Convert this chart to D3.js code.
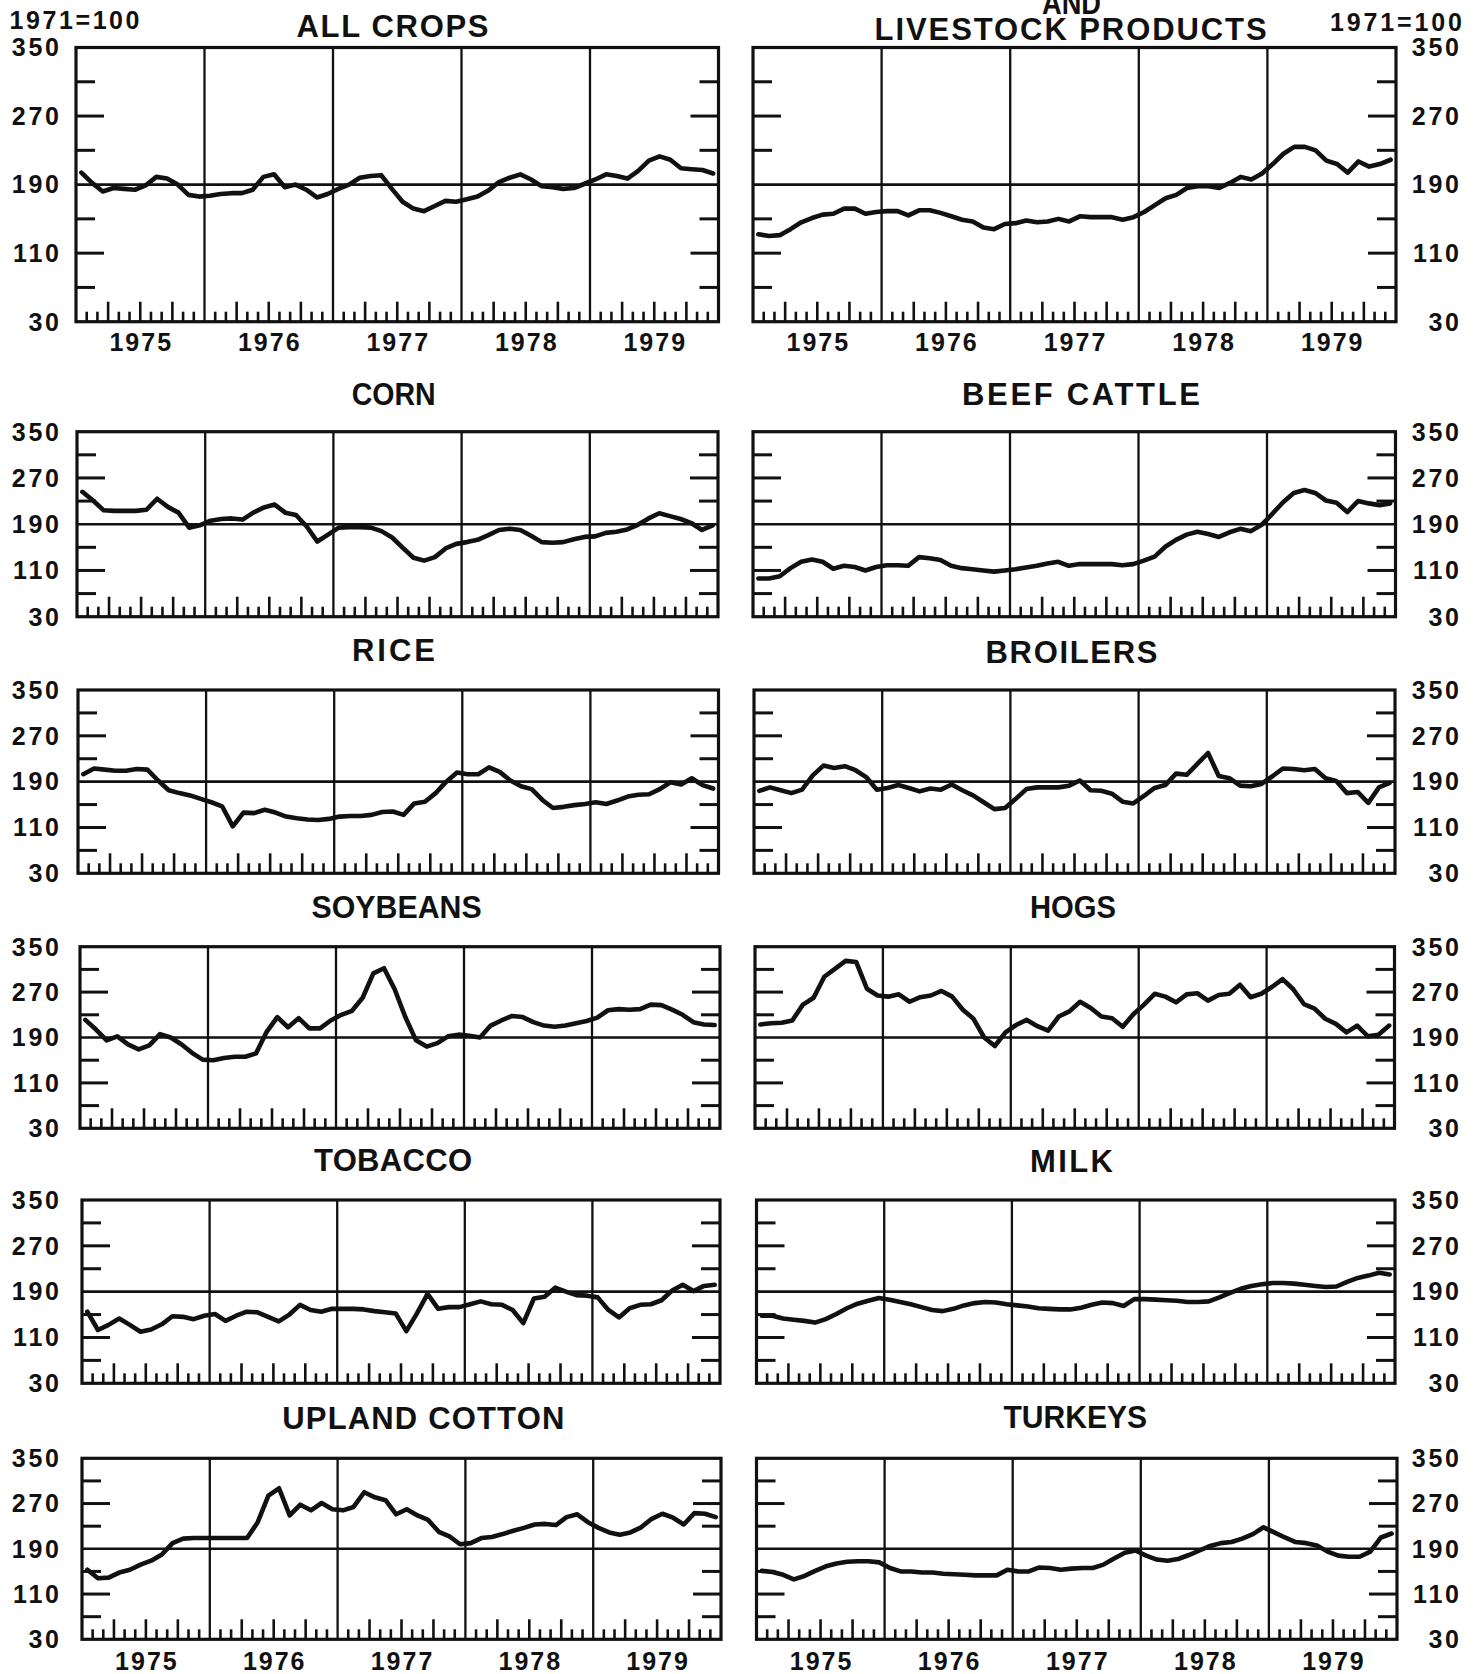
<!DOCTYPE html>
<html><head><meta charset="utf-8">
<script src="https://cdn.jsdelivr.net/npm/d3@7"></script>
<style>
html,body{margin:0;padding:0;background:#fff;}
svg{display:block;}
text{font-family:"Liberation Sans",Arial,"Noto Sans",sans-serif;font-weight:bold;fill:#111;}
</style></head><body>
<svg id="chart" width="1479" height="1674"></svg>
<script>
// ---------------- DATA ----------------
const years = ["1975", "1976", "1977", "1978", "1979"];
const monthsPerYear = 12;
const yTickLabels = [350, 270, 190, 110, 30];
const yMinorTicks = [310, 230, 150, 70];
const yDomain = [30, 350];
const referenceValue = 190;
const unitLabel = "1971=100";

const allCrops = [204,192,182,186,185,184,189,199,197,190,178,176,177,179,180,180,184,199,202,187,190,184,175,179,185,190,198,200,201,185,170,162,159,165,171,170,173,176,183,193,198,202,196,188,187,185,186,191,196,202,200,197,206,218,223,219,209,208,207,203];
const livestock = [132,130,131,138,146,151,155,156,162,162,156,158,159,159,154,160,160,157,153,149,147,140,138,144,145,148,146,147,150,147,153,152,152,152,149,152,158,166,174,178,186,188,188,186,192,199,196,203,214,226,234,234,230,218,214,204,217,211,214,219];
const corn = [246,231,214,213,213,213,215,234,220,210,184,188,196,199,200,198,210,219,224,210,206,186,160,172,184,185,185,184,178,167,149,132,127,133,148,156,159,163,171,180,182,180,170,159,158,159,164,168,169,175,177,181,189,200,209,204,199,192,180,188];
const beefCattle = [96,96,100,114,125,129,125,113,118,116,110,116,119,119,118,133,131,128,118,114,112,110,108,110,112,115,118,122,125,118,121,121,121,121,119,121,127,134,151,163,172,177,173,168,176,182,178,189,208,228,244,249,244,231,227,211,230,226,223,226];
const rice = [203,213,211,209,209,212,211,192,175,170,166,160,154,147,112,136,135,141,136,129,126,124,123,125,129,130,130,132,137,138,132,152,155,170,190,206,203,203,215,207,192,182,177,158,144,146,149,151,154,151,157,164,167,168,177,189,185,196,184,178];
const broilers = [174,180,175,170,176,201,218,214,217,210,198,176,179,184,179,173,178,176,185,175,166,154,142,144,160,177,180,180,180,183,192,175,174,169,155,152,165,179,184,204,202,221,240,200,196,183,182,186,199,213,212,210,212,196,191,170,172,153,180,188];
const soybeans = [221,204,185,192,178,169,176,196,190,178,163,151,150,154,156,156,162,200,226,208,224,206,206,220,230,237,260,303,312,275,226,185,174,180,192,195,193,190,211,220,228,226,217,211,209,211,215,219,225,238,240,239,240,248,247,239,230,217,213,212];
const hogs = [213,215,216,220,248,260,297,311,325,323,276,264,262,266,253,261,264,272,262,239,223,190,175,199,212,221,210,202,227,236,253,242,227,224,209,231,248,267,262,252,266,268,255,265,267,283,261,267,279,293,275,249,241,223,214,199,211,192,195,211];
const tobacco = [155,123,132,143,132,120,124,133,147,146,142,148,151,139,148,155,154,146,138,150,167,158,155,160,160,160,159,156,154,152,121,152,186,160,163,163,168,173,168,167,158,135,178,181,197,190,184,183,180,158,145,161,167,168,175,192,202,191,200,202];
const milk = [148,148,143,141,139,136,142,151,161,169,174,179,176,172,168,163,158,156,160,166,170,172,171,168,166,164,161,160,159,159,162,167,171,170,165,177,177,176,175,174,172,172,173,180,188,195,200,203,205,205,204,202,200,198,199,207,214,218,223,220];
const uplandCotton = [153,138,139,148,153,162,169,180,200,208,209,209,209,209,209,209,237,284,297,249,268,258,271,260,258,264,290,281,276,251,260,249,241,220,212,198,200,209,211,216,222,227,233,234,232,246,251,237,227,219,215,219,228,243,252,245,233,253,252,246];
const turkeys = [151,149,144,136,142,151,159,164,167,168,168,166,156,150,150,148,148,146,145,144,143,143,143,153,150,150,157,156,153,155,156,156,162,173,183,187,178,171,169,172,179,187,195,200,202,208,216,228,219,210,202,200,196,185,178,176,176,185,210,217];

const panelTitles = ["ALL CROPS","LIVESTOCK PRODUCTS","CORN","BEEF CATTLE","RICE","BROILERS","SOYBEANS","HOGS","TOBACCO","MILK","UPLAND COTTON","TURKEYS"];
const panelSeries = [allCrops, livestock, corn, beefCattle, rice, broilers, soybeans, hogs, tobacco, milk, uplandCotton, turkeys];

// ---------------- LAYOUT ----------------
const rowTop    = [47.5, 431.7, 690, 946.7, 1200, 1458.3];
const rowBottom = [321.7, 616.7, 873.3, 1128.3, 1383.3, 1639.3];
const colX0 = [[76,77,78,80,82,82],[753,753,754,755,756.5,756.5]];
const colX1 = [[718.5,718,718.5,720,720,721],[1396,1395.5,1395,1394.5,1395,1397]];
// title placement: [left x, baseline y, width]
const titleBoxes = [
  [296.5,37,192],[874.6,39.5,392],
  [351.7,405,84],[962,405,238],
  [352,661,83],[985.5,663,172],
  [311.6,918,170],[1030,918,86],
  [314,1171,158],[1030,1172,83],
  [282.3,1429,282],[1003.5,1428,143.5]
];

const svg = d3.select("#chart");
svg.append("rect").attr("width",1479).attr("height",1674).attr("fill","#fff");
const ink = "#111";

function fitText(g, str, x, y, w, size) {
  const t = g.append("text").attr("x", x).attr("y", y)
    .attr("font-size", size)
    .text(str);
  const natural = t.node().getComputedTextLength();
  t.attr("textLength", w)
   .attr("lengthAdjust", natural > w ? "spacingAndGlyphs" : "spacing");
  return t;
}

panelTitles.forEach((title, p) => {
  const row = Math.floor(p / 2), col = p % 2;
  const x0 = colX0[col][row], x1 = colX1[col][row];
  const top = rowTop[row], bottom = rowBottom[row];
  const values = panelSeries[p];
  const nMonths = years.length * monthsPerYear;

  const x = d3.scaleLinear().domain([0, nMonths]).range([x0, x1]);
  const y = d3.scaleLinear().domain(yDomain).range([bottom, top]);
  const g = svg.append("g");

  // title
  const tb = titleBoxes[p];
  fitText(g, title, tb[0], tb[1], tb[2], 31);

  // year gridlines
  g.selectAll("line.grid").data(d3.range(1, years.length)).join("line")
    .attr("x1", d => x(d * monthsPerYear)).attr("x2", d => x(d * monthsPerYear))
    .attr("y1", top).attr("y2", bottom)
    .attr("stroke", ink).attr("stroke-width", 2.3);

  // reference line
  g.append("line").attr("x1", x0).attr("x2", x1)
    .attr("y1", y(referenceValue)).attr("y2", y(referenceValue))
    .attr("stroke", ink).attr("stroke-width", 2.6);

  // month ticks (bottom, inward)
  const monthTicks = d3.range(1, nMonths).filter(k => k % monthsPerYear !== 0);
  g.selectAll("line.mt").data(monthTicks).join("line")
    .attr("x1", d => x(d)).attr("x2", d => x(d))
    .attr("y1", bottom).attr("y2", d => bottom - (d % 3 === 0 ? 20 : 10))
    .attr("stroke", ink).attr("stroke-width", 2.6);

  // y ticks on both sides (inward)
  const majorInner = yTickLabels.filter(v => v !== yDomain[0] && v !== yDomain[1] && v !== referenceValue);
  const yt = majorInner.map(v => ({v, len: 28})).concat(yMinorTicks.map(v => ({v, len: 19})));
  g.selectAll("line.ytl").data(yt).join("line")
    .attr("x1", x0).attr("x2", d => x0 + d.len)
    .attr("y1", d => y(d.v)).attr("y2", d => y(d.v))
    .attr("stroke", ink).attr("stroke-width", 3);
  g.selectAll("line.ytr").data(yt).join("line")
    .attr("x1", x1).attr("x2", d => x1 - d.len)
    .attr("y1", d => y(d.v)).attr("y2", d => y(d.v))
    .attr("stroke", ink).attr("stroke-width", 3);

  // frame
  g.append("rect").attr("x", x0).attr("y", top)
    .attr("width", x1 - x0).attr("height", bottom - top)
    .attr("fill", "none").attr("stroke", ink).attr("stroke-width", 3.2);

  // data line
  const line = d3.line().x((d, i) => x(i + 0.5)).y(d => y(d)).curve(d3.curveLinear);
  g.append("path").datum(values).attr("d", line)
    .attr("fill", "none").attr("stroke", ink).attr("stroke-width", 4.6)
    .attr("stroke-linejoin", "round").attr("stroke-linecap", "round");

  // y labels
  const labelRight = col === 0 ? 59 : 1459;
  const ls = 2.8;
  g.selectAll("text.yl").data(yTickLabels).join("text")
    .attr("x", labelRight + ls).attr("y", d => y(d) + 8.8)
    .attr("text-anchor", "end").attr("font-size", 25)
    .attr("letter-spacing", ls)
    .text(d => d);

  // year labels on top and bottom rows
  if (row === 0 || row === 5) {
    const base = row === 0 ? 350.5 : 1670;
    g.selectAll("text.yr").data(years).join("text")
      .attr("x", (d, i) => x((i + 0.5) * monthsPerYear) + 1)
      .attr("y", base)
      .attr("text-anchor", "middle").attr("font-size", 25)
      .attr("letter-spacing", 2)
      .text(d => d);
  }
});

// extra header texts
fitText(svg, "AND", 1042, 14, 59, 31);
fitText(svg, unitLabel, 9.5, 28.5, 130, 25);
fitText(svg, unitLabel, 1330, 31, 132, 25);
</script>
</body></html>
